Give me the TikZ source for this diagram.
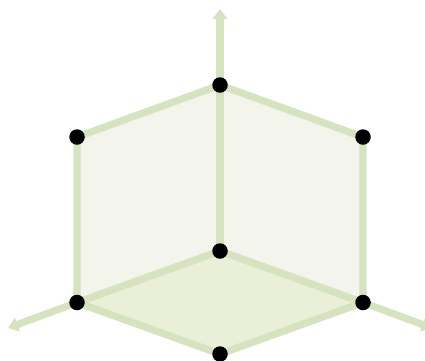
\documentclass[tikz,border=0pt]{standalone}
\usetikzlibrary{arrows.meta}
\definecolor{edgegreen}{HTML}{D5E3BF}
\definecolor{wallfill}{HTML}{F3F4EC}
\definecolor{floorfill}{HTML}{E9F0D7}
\tikzset{
  dot/.style={circle,fill=black,inner sep=0pt,minimum size=15.5pt},
  edge/.style={draw=edgegreen,line width=7.2pt,line join=round},
  axis/.style={edge,-{Triangle[length=10pt,width=14.5pt]}},
}
\begin{document}
\begin{tikzpicture}[x=1pt,y=-1pt]
\useasboundingbox (0,0) rectangle (425,360);
\clip (0,0) rectangle (425,360);
\coordinate (T) at (220,85);
\coordinate (L) at (77,137);
\coordinate (R) at (363,137);
\coordinate (C) at (220,251);
\coordinate (BL) at (77,302.5);
\coordinate (BR) at (363,302.5);
\coordinate (B) at (220,354);
\coordinate (up) at (220,9);
\coordinate (left) at (8,328);
\coordinate (right) at (432,328);
\fill[wallfill] (T) -- (L) -- (BL) -- (C) -- cycle;
\fill[wallfill] (T) -- (R) -- (BR) -- (C) -- cycle;
\fill[floorfill] (C) -- (BL) -- (B) -- (BR) -- cycle;
\draw[axis] (T) -- (up);
\draw[axis] (BL) -- (left);
\draw[axis] (BR) -- (right);
\draw[edge] (T) -- (L) -- (BL) -- (B) -- (BR) -- (R) -- cycle;
\draw[edge] (T) -- (C);
\draw[edge] (BL) -- (C) -- (BR);
\node[dot] (nT) at (T) {};
\node[dot] (nL) at (L) {};
\node[dot] (nR) at (R) {};
\node[dot] (nC) at (C) {};
\node[dot] (nBL) at (BL) {};
\node[dot] (nBR) at (BR) {};
\node[dot] (nB) at (B) {};
\end{tikzpicture}
\end{document}
